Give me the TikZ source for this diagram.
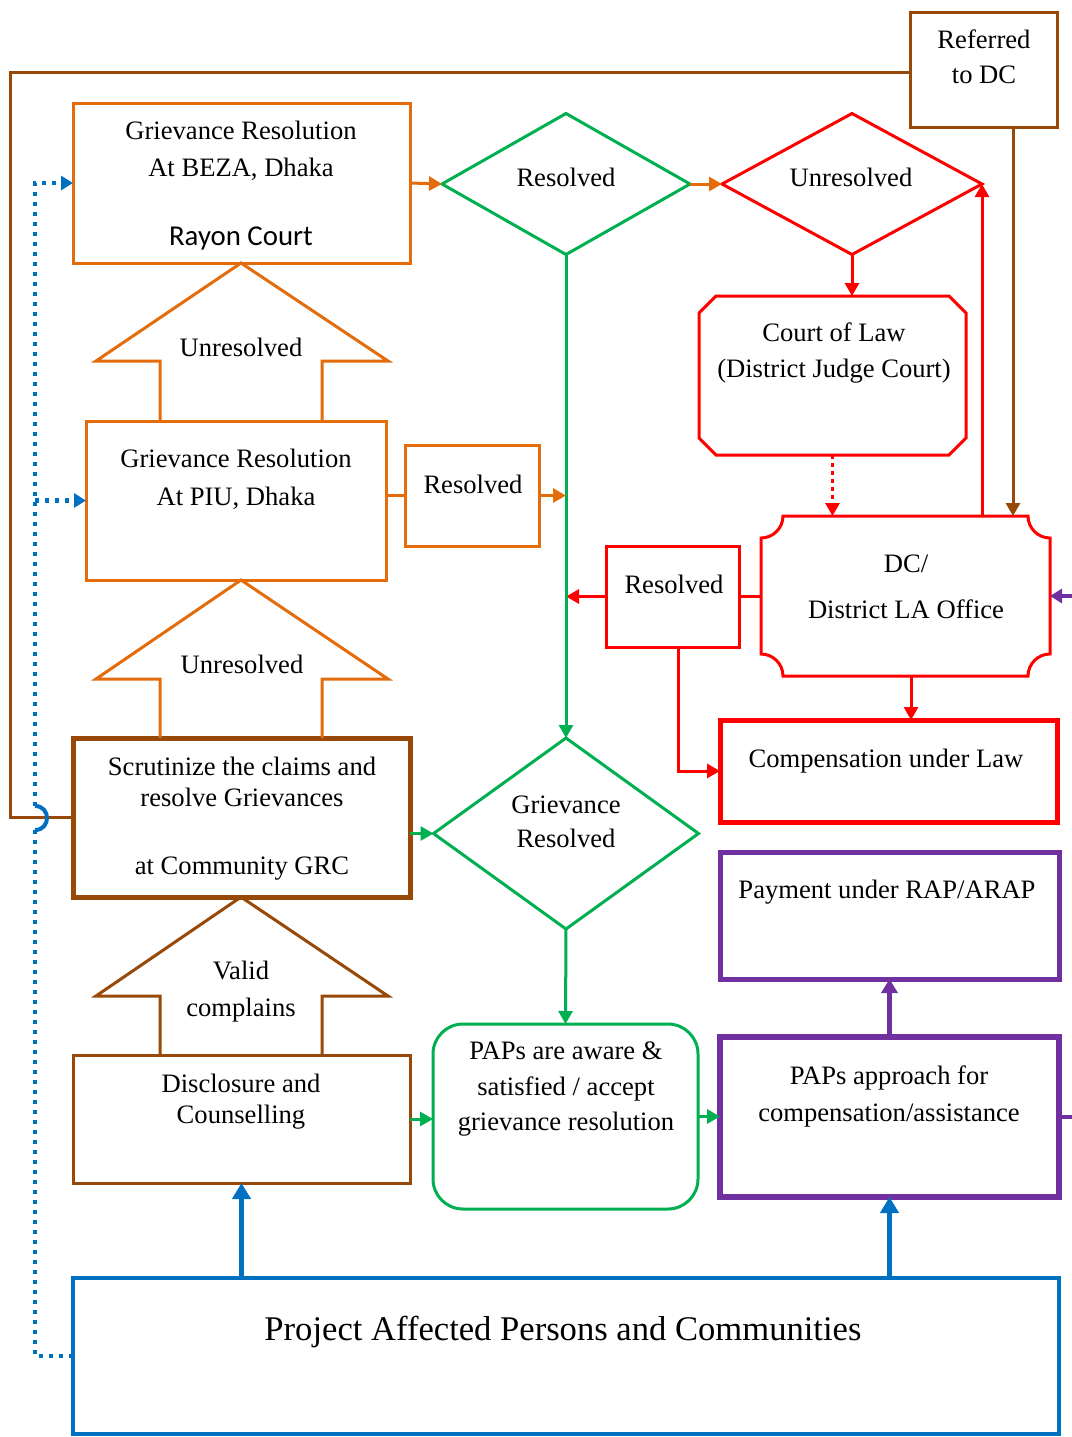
\documentclass[tikz,border=0pt]{standalone}
\usepackage{fontspec}
\setmainfont{Liberation Serif}
\newfontfamily\carlito{Carlito}
\usetikzlibrary{arrows.meta,shapes.geometric,fit}
\definecolor{corange}{HTML}{E46C0A}
\definecolor{cbrown}{HTML}{984807}
\definecolor{cgreen}{HTML}{00B050}
\definecolor{cred}{HTML}{FF0000}
\definecolor{cpurple}{HTML}{7030A0}
\definecolor{cblue}{HTML}{0070C0}
\begin{document}
\begin{tikzpicture}[x=0.5pt,y=-0.5pt,
  txt/.style={font=\fontsize{13.3}{18}\selectfont, anchor=base, inner sep=0pt, outer sep=0pt},
  box/.style={draw, rectangle, inner sep=0pt, outer sep=0pt},
  dia/.style={draw, diamond, inner sep=0pt, outer sep=0pt},
  tip/.style={-{Triangle[length=6.5pt,width=7pt]}},
  orline/.style={corange, line width=1.5pt},
  brline/.style={cbrown, line width=1.5pt},
  grline/.style={cgreen, line width=1.5pt},
  rdline/.style={cred, line width=1.5pt},
  puline/.style={cpurple, line width=2.5pt},
  bluline/.style={cblue, line width=2.5pt, -{Triangle[length=8pt,width=9pt]}},
  bluedot/.style={cblue, line width=2.2pt, dash pattern=on 2.2pt off 2.8pt},
  bluetip/.style={-{Triangle[length=6pt,width=7pt]}}
]
\useasboundingbox (0,0) rectangle (1072,1437);

% ---------- boxes ----------
\node[box, draw=cbrown, line width=1.5pt, fit={(910,12) (1057,127)}] (ref) {};
\node[box, draw=corange, line width=1.5pt, fit={(73,103) (410,263)}] (beza) {};
\node[dia, draw=cgreen, line width=1.5pt, minimum width=124pt, minimum height=70.5pt] (d1) at (566,184) {};
\node[dia, draw=cred, line width=1.5pt, minimum width=130pt, minimum height=70.5pt] (d2) at (852,184) {};
\node[box, draw=none, fit={(699,296) (966,455)}] (court) {};
\draw[rdline] (716,296) -- (949,296) -- (966,313) -- (966,438) -- (949,455)
  -- (716,455) -- (699,438) -- (699,313) -- cycle;
\node[box, draw=none, fit={(761,516) (1050,676)}] (dc) {};
\draw[rdline] (783,516) -- (1028,516)
  .. controls (1028,528.1) and (1037.9,538) .. (1050,538) -- (1050,654)
  .. controls (1037.9,654) and (1028,663.9) .. (1028,676) -- (783,676)
  .. controls (783,663.9) and (773.1,654) .. (761,654) -- (761,538)
  .. controls (773.1,538) and (783,528.1) .. (783,516) -- cycle;
\node[box, draw=cred, line width=1.5pt, fit={(606,546) (739,647)}] (r2) {};
\node[box, draw=cred, line width=2.5pt, fit={(720,720) (1057,822)}] (comp) {};
\node[box, draw=corange, line width=1.5pt, fit={(86,421) (386,580)}] (piu) {};
\node[box, draw=corange, line width=1.5pt, fit={(405,445) (539,546)}] (r1) {};
\node[box, draw=cbrown, line width=2.5pt, fit={(73,738) (410,897)}] (grc) {};
\node[dia, draw=cgreen, line width=1.5pt, minimum width=132.5pt, minimum height=95.5pt] (d3) at (566,833.5) {};
\node[box, draw=cbrown, line width=1.5pt, fit={(73,1055) (410,1183)}] (disc) {};
\node[box, draw=cgreen, line width=1.5pt, rounded corners=15pt, fit={(433,1024) (698,1209)}] (aware) {};
\node[box, draw=cpurple, line width=2.5pt, fit={(720,852) (1059,979)}] (pay) {};
\node[box, draw=cpurple, line width=3pt, fit={(720,1037) (1059,1197)}] (appr) {};
\node[box, draw=cblue, line width=2pt, fit={(73,1278) (1059,1434)}] (pap) {};

% ---------- block arrows ----------
\draw[orline] (160,421) -- (160,361) -- (96,361) -- (241,263) -- (388,361) -- (322,361) -- (322,421);
\draw[orline] (160,738) -- (160,679) -- (96,679) -- (241,580) -- (388,679) -- (322,679) -- (322,738);
\draw[brline] (160,1055) -- (160,996) -- (96,996) -- (241,897) -- (388,996) -- (322,996) -- (322,1055);

% ---------- texts ----------
\node[txt] (tref1) at (984,48) {Referred};
\node[txt] (tref2) at (984,83) {to DC};
\node[txt] (tbeza1) at (241,139) {Grievance Resolution};
\node[txt] (tbeza2) at (241,176) {At BEZA, Dhaka};
\node[txt, font=\carlito\fontsize{14.4}{18}\selectfont] (tbeza3) at (241,245) {Rayon Court};
\node[txt] (td1) at (566,186) {Resolved};
\node[txt] (td2) at (851,186) {Unresolved};
\node[txt] (tcourt1) at (834,341) {Court of Law};
\node[txt] (tcourt2) at (834,377) {(District Judge Court)};
\node[txt] (ta1) at (241,356) {Unresolved};
\node[txt] (tpiu1) at (236,467) {Grievance Resolution};
\node[txt] (tpiu2) at (236,505) {At PIU, Dhaka};
\node[txt] (tr1) at (473,493) {Resolved};
\node[txt] (tr2) at (674,593) {Resolved};
\node[txt] (tdc1) at (906,572) {DC/};
\node[txt] (tdc2) at (906,618) {District LA Office};
\node[txt] (ta2) at (242,673) {Unresolved};
\node[txt] (tcomp) at (886,767) {Compensation under Law};
\node[txt] (tgrc1) at (242,775) {Scrutinize the claims and};
\node[txt] (tgrc2) at (242,806) {resolve Grievances};
\node[txt] (tgrc3) at (242,874) {at Community GRC};
\node[txt] (td31) at (566,813) {Grievance};
\node[txt] (td32) at (566,847) {Resolved};
\node[txt] (tpay) at (887,898) {Payment under RAP/ARAP};
\node[txt] (ta31) at (241,979) {Valid};
\node[txt] (ta32) at (241,1016) {complains};
\node[txt] (tdisc1) at (241,1092) {Disclosure and};
\node[txt] (tdisc2) at (241,1123) {Counselling};
\node[txt] (taw1) at (566,1059) {PAPs are aware \&};
\node[txt] (taw2) at (566,1095) {satisfied / accept};
\node[txt] (taw3) at (566,1130) {grievance resolution};
\node[txt] (tap1) at (889,1084) {PAPs approach for};
\node[txt] (tap2) at (889,1121) {compensation/assistance};
\node[txt, font=\fontsize{17.3}{20}\selectfont] (tpap) at (563,1340) {Project Affected Persons and Communities};

% ---------- coordinates ----------
\coordinate (bl) at (10,72);
\coordinate (xb) at (1013,0);
\coordinate (xr) at (678,0);
\coordinate (xd) at (911,0);
\coordinate (pe1) at (1072,1117);
\coordinate (pe2) at (1072,596);
\coordinate (j1) at (35,830);
\coordinate (j2) at (35,806);

% ---------- connectors ----------
\draw[brline] (ref.west |- bl) -- (bl) |- (grc.west);
\draw[brline, tip] (ref.south -| xb) -- (dc.north -| xb);
\draw[orline, tip] (beza.east) -- (d1.west);
\draw[orline, tip] (d1.east) -- (d2.west);
\draw[rdline, tip] (d2.south) -- (d2.south |- court.north);
\draw[rdline, tip, dash pattern=on 2pt off 2pt] (court.south) -- (court.south |- dc.north);
\draw[rdline, tip] (d2.east |- dc.north) -- (d2.east);
\draw[rdline] (dc.west) -- (dc.west -| r2.east);
\draw[rdline, tip] (r2.west) -- (r2.west -| d1.south);
\draw[rdline, tip] (r2.south -| xr) |- (comp.west);
\draw[rdline, tip] (dc.south -| xd) -- (comp.north -| xd);
\draw[grline, tip] (d1.south) -- (d3.north);
\draw[orline] (r1.west -| piu.east) -- (r1.west);
\draw[orline, tip] (r1.east) -- (r1.east -| d1.south);
\draw[grline, tip] (d3.west -| grc.east) -- (d3.west);
\draw[grline, tip] (d3.south) -- (aware.north);
\draw[grline, tip] (disc.east) -- (disc.east -| aware.west);
\draw[grline, tip] (aware.east) -- (aware.east -| appr.west);
\draw[puline, -{Triangle[length=7pt,width=8pt]}] (appr.north) -- (pay.south);
\draw[cpurple, line width=2pt] (appr.east) -- (pe1);
\draw[cpurple, line width=2pt, -{Triangle[length=6pt,width=7pt]}] (pe2) -- (dc.east);
\draw[bluline] (pap.north -| disc.south) -- (disc.south);
\draw[bluline] (pap.north -| appr.south) -- (appr.south);
\draw[bluedot] (pap.west) -| (j1);
\draw[cblue, line width=2pt] (j1) .. controls (51,830) and (51,806) .. (j2);
\draw[bluedot, bluetip] (j2) |- (beza.west);
\draw[bluedot, bluetip] (piu.west -| j2) -- (piu.west);
\end{tikzpicture}
\end{document}
